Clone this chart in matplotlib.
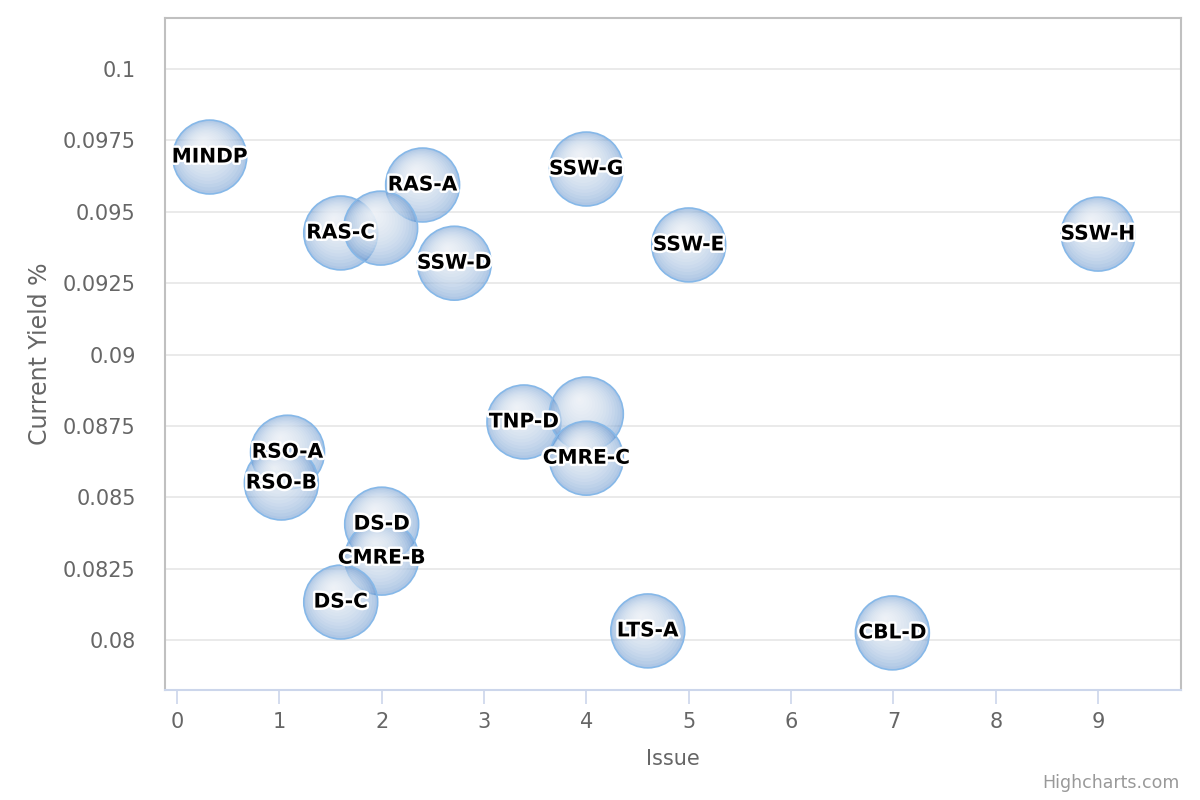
import numpy as np
import matplotlib
matplotlib.use('Agg')
from matplotlib import pyplot as plt
from matplotlib import patheffects
from matplotlib.transforms import offset_copy
from matplotlib.ticker import FuncFormatter

plt.rcParams['font.family'] = ['DejaVu Sans']

# bubble data: issue index, current yield, label (empty = label hidden by overlap)
issue = [0.32, 2.40, 1.60, 1.99, 2.71, 4.00, 5.00, 9.00, 3.39, 4.00,
         4.00, 1.08, 1.02, 2.00, 2.00, 1.60, 4.60, 6.99]
current_yield = [0.09692, 0.09594, 0.09426, 0.09443, 0.09320, 0.09650, 0.09384,
                 0.09422, 0.08764, 0.08792, 0.08637, 0.08658, 0.08550, 0.08406,
                 0.08287, 0.08133, 0.08032, 0.08025]
names = ['MINDP', 'RAS-A', 'RAS-C', '', 'SSW-D', 'SSW-G', 'SSW-E', 'SSW-H', 'TNP-D', '',
         'CMRE-C', 'RSO-A', 'RSO-B', 'DS-D', 'CMRE-B', 'DS-C', 'LTS-A', 'CBL-D']

y_ticks = [0.08, 0.0825, 0.085, 0.0875, 0.09, 0.0925, 0.095, 0.0975, 0.1]
x_ticks = [0, 1, 2, 3, 4, 5, 6, 7, 8, 9]

fig = plt.figure(figsize=(12, 8), dpi=100)
ax = fig.add_axes([165 / 1200, 1 - 690 / 800, 1016 / 1200, 672 / 800])

# bubble: base translucent blue disc + nested white layers toward a highlight
R = 26.6              # radius in points
base_s = (2 * R) ** 2
n_layers = 15
for i in range(len(issue)):
    z = 2 + i * 0.05
    ax.scatter([issue[i]], [current_yield[i]], s=base_s, color=(0.38, 0.57, 0.80),
               alpha=0.5, edgecolors='none', zorder=z)
    for k in range(1, n_layers + 1):
        f = 1 - 0.95 * k / n_layers
        dx = -(1 - f) * 0.2 * R
        dy = (1 - f) * 0.4 * R
        tr = offset_copy(ax.transData, fig=fig, x=dx, y=dy, units='points')
        ax.scatter([issue[i]], [current_yield[i]], s=base_s * f ** 2, color='white',
                   alpha=0.11, edgecolors='none', transform=tr, zorder=z + 0.0001 * k)
    ax.scatter([issue[i]], [current_yield[i]], s=base_s, facecolors='none',
               edgecolors='#86b8e8', linewidths=1.2, zorder=z + 0.01)

for i in range(len(issue)):
    if names[i]:
        ax.text(issue[i], current_yield[i], names[i], ha='center', va='center',
                fontsize=14.5, fontweight='bold', color='black', zorder=10,
                path_effects=[patheffects.withStroke(linewidth=3.5, foreground='white')])

ax.set_xlim(-0.117, 9.81)
ax.set_ylim(0.07825, 0.10179)
ax.set_xticks(x_ticks)
ax.set_yticks(y_ticks)
ax.yaxis.set_major_formatter(FuncFormatter(lambda v, p: '%g' % round(v, 5)))
ax.grid(axis='y', color='#e6e6e6', linewidth=1.2)
ax.set_axisbelow(True)

for side in ['left', 'top', 'right']:
    ax.spines[side].set_color('#c0c0c0')
    ax.spines[side].set_linewidth(1.5)
ax.spines['bottom'].set_color('#ccd6eb')
ax.spines['bottom'].set_linewidth(1.5)

ax.tick_params(axis='x', length=10, width=1.2, color='#ccd6eb', labelsize=15,
               labelcolor='#666666', pad=6)
ax.tick_params(axis='y', length=0, labelsize=15, labelcolor='#666666', pad=21)

ax.set_xlabel('Issue', fontsize=15, color='#666666', labelpad=12)
ax.set_ylabel('Current Yield %', fontsize=17, color='#666666', labelpad=8)

fig.text(1180 / 1200, 1 - 783 / 800, 'Highcharts.com', ha='right', va='center',
         fontsize=12.5, color='#999999')

plt.savefig('out.png')
